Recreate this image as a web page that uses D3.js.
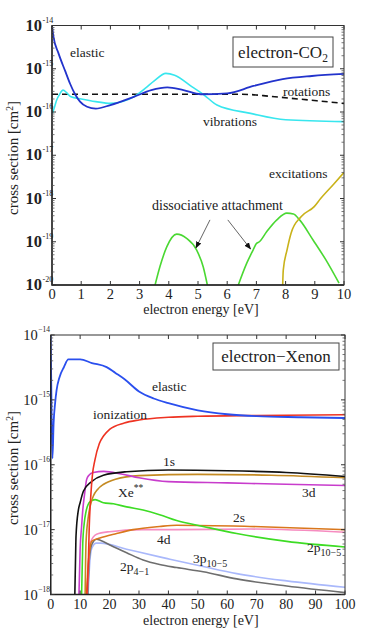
<!DOCTYPE html>
<html>
<head>
<meta charset="utf-8">
<script src="https://cdn.jsdelivr.net/npm/d3@7"></script>
<style>
  body { margin: 0; background: #fff; }
  svg { display: block; }
</style>
</head>
<body>
<svg id="chart" width="382" height="634" font-family="'Liberation Serif', 'DejaVu Serif', serif"></svg>
<script>
// ---- electron-CO2 panel, energy [eV] vs cross section [cm^2]
const co2Elastic = [[0,1e-14],[0.05,5.5e-15],[0.22,2.3e-15],[0.45,8.9e-16],[0.62,4.5e-16],[0.79,2.57e-16],[0.96,1.74e-16],[1.2,1.32e-16],[1.5,1.2e-16],[2.0,1.45e-16],[2.8,2.24e-16],[3.4,3.2e-16],[3.95,3.7e-16],[4.5,3.2e-16],[5.1,2.57e-16],[6.0,2.7e-16],[6.9,4.0e-16],[7.9,5.75e-16],[8.9,6.8e-16],[10,7.6e-16]];
const co2Vibrations = [[0.02,9.5e-17],[0.1,1.4e-16],[0.16,1.9e-16],[0.25,2.5e-16],[0.38,3.2e-16],[0.5,2.8e-16],[0.65,2.24e-16],[1.0,2.0e-16],[1.5,1.74e-16],[2.0,1.58e-16],[2.8,2.24e-16],[3.2,3.55e-16],[3.5,5.25e-16],[3.9,7.8e-16],[4.2,7.1e-16],[4.8,3.8e-16],[5.2,2.5e-16],[5.65,1.45e-16],[6.8,9.3e-17],[8.0,6.6e-17],[10,6.0e-17]];
const co2Rotations = [[0,2.57e-16],[6.5,2.57e-16],[7.5,2.3e-16],[8.5,1.98e-16],[10,1.58e-16]];
const co2Attach1 = [[3.53,1e-20],[3.7,2.7e-20],[3.93,7.6e-20],[4.27,1.5e-19],[4.61,1.2e-19],[4.95,6.5e-20],[5.18,2.6e-20],[5.32,1e-20]];
const co2Attach2 = [[6.38,1e-20],[6.67,3.2e-20],[6.89,6.5e-20],[7.0,9.1e-20],[7.1,1.0e-19],[7.35,1.7e-19],[7.7,3.2e-19],[8.04,4.6e-19],[8.27,4.4e-19],[8.48,3.2e-19],[8.94,1.1e-19],[9.38,3.8e-20],[9.83,1.1e-20]];
const co2Excitations = [[7.9,1e-20],[7.92,2.2e-20],[8.05,6.5e-20],[8.19,1.6e-19],[8.53,3.8e-19],[8.98,6.5e-19],[9.2,1e-18],[9.66,2.2e-18],[10,4e-18]];
const co2XTicks = [0,1,2,3,4,5,6,7,8,9,10];
const co2YTicks = [-14,-15,-16,-17,-18,-19,-20];

// ---- electron-Xenon panel
const xeElastic = [[0,1e-14],[0.3,6.3e-16],[0.6,1.26e-16],[1.0,4.5e-16],[1.5,8.9e-16],[2.0,1.41e-15],[3,2.24e-15],[4.5,3.2e-15],[6,4.2e-15],[10,4.2e-15],[14,3.7e-15],[19,3.2e-15],[22,2.6e-15],[25,2.1e-15],[30,1.35e-15],[35,1.05e-15],[40,8.9e-16],[50,6.9e-16],[60,6.0e-16],[70,5.6e-16],[85,5.4e-16],[100,5.25e-16]];
const xeIonization = [[12.3,1e-18],[12.8,3.2e-18],[13.1,1.12e-17],[13.6,3.2e-17],[14.2,7.1e-17],[15,1.17e-16],[16.5,2.1e-16],[18,2.8e-16],[20,3.5e-16],[25,4.4e-16],[30,4.9e-16],[40,5.4e-16],[50,5.6e-16],[70,5.75e-16],[100,5.9e-16]];
const xe1s = [[8.2,1e-18],[8.5,5e-18],[8.6,7.9e-18],[9.4,2e-17],[10,2.6e-17],[11.1,3.9e-17],[13.9,5.5e-17],[17.9,6.9e-17],[25.8,7.8e-17],[40,8.3e-17],[60,8.1e-17],[80,7.6e-17],[100,6.6e-17]];
const xe3d = [[9.6,1e-18],[10,5e-18],[10.5,1.12e-17],[10.9,2e-17],[11.5,3.5e-17],[12.2,5.9e-17],[13,6.9e-17],[14.5,7.6e-17],[18,7.9e-17],[24,7.2e-17],[30,6.3e-17],[40,5.5e-17],[60,5.25e-17],[80,5e-17],[100,4.8e-17]];
const xeStar = [[11.7,1e-18],[12.0,6.3e-18],[12.8,1.6e-17],[13.5,2.4e-17],[14.5,3.3e-17],[16,4.2e-17],[18,5.0e-17],[22,6.0e-17],[30,6.8e-17],[50,7.1e-17],[75,6.9e-17],[100,6.3e-17]];
const xeGreen = [[10.5,1e-18],[10.9,6.2e-18],[11.4,1.26e-17],[12,1.9e-17],[13.4,2.7e-17],[15.1,2.9e-17],[17.9,2.6e-17],[21.3,2.5e-17],[25.8,2.24e-17],[31.4,2e-17],[37,1.7e-17],[42.8,1.38e-17],[51.8,1.12e-17],[63.2,8.7e-18],[80.2,6.6e-18],[100,5.4e-18]];
const xeOrange = [[12.2,1e-18],[12.8,3.2e-18],[13.3,5e-18],[13.9,6.6e-18],[16.7,7.4e-18],[22.4,8.7e-18],[28,1e-17],[37,1.12e-17],[42.8,1.17e-17],[67.7,1.12e-17],[100,1e-17]];
const xePink = [[12.4,1e-18],[12.9,3.2e-18],[13.4,6.2e-18],[15.6,8.5e-18],[20,9.3e-18],[31,1e-17],[43,1e-17],[68,1.02e-17],[100,9.1e-18]];
const xeGray = [[12.6,1e-18],[13.1,3.4e-18],[13.9,5.8e-18],[15.6,7.1e-18],[17,6.8e-18],[20.1,5.8e-18],[25.8,4.4e-18],[31.4,3.4e-18],[37,2.9e-18],[42.8,2.6e-18],[51.8,2.24e-18],[63.2,1.74e-18],[80.2,1.35e-18],[100,1.07e-18]];
const xeLightBlue = [[12.7,1e-18],[13.3,3.2e-18],[14,5.2e-18],[15.5,6.2e-18],[17,6.2e-18],[25.8,5e-18],[37,3.8e-18],[40.5,3.5e-18],[51.8,2.7e-18],[63.2,2.1e-18],[80.2,1.62e-18],[100,1.29e-18]];
const xeXTicks = [0,10,20,30,40,50,60,70,80,90,100];
const xeYTicks = [-14,-15,-16,-17,-18];

const svg = d3.select("#chart");
svg.append("rect").attr("width", 382).attr("height", 634).attr("fill", "#fff");

// arrow head for the annotations
svg.append("defs").append("marker")
  .attr("id", "head").attr("viewBox", "0 0 10 10").attr("refX", 9).attr("refY", 5)
  .attr("markerWidth", 7).attr("markerHeight", 7).attr("orient", "auto")
  .append("path").attr("d", "M0,1L10,5L0,9z").attr("fill", "#111");

function drawPanel(p) {
  const x = d3.scaleLinear().domain([0, p.xmax]).range([p.left, p.right]);
  const y = d3.scaleLog().domain([p.ymin, p.ymax]).range([p.bottom, p.top]);
  const g = svg.append("g").attr("fill", "#222");

  g.append("clipPath").attr("id", p.id + "clip")
    .append("rect").attr("x", p.left).attr("y", p.top)
    .attr("width", p.right - p.left).attr("height", p.bottom - p.top);

  const line = d3.line()
    .x(d => x(d[0]))
    .y(d => y(d[1]))
    .curve(d3.curveMonotoneX);

  const lines = g.append("g").attr("clip-path", "url(#" + p.id + "clip)");
  for (const s of p.series) {
    lines.append("path")
      .datum(s.data)
      .attr("fill", "none")
      .attr("stroke", s.color)
      .attr("stroke-width", s.width || 1.6)
      .attr("stroke-dasharray", s.dash || null)
      .attr("stroke-linejoin", "round")
      .attr("d", line);
  }

  // frame
  g.append("rect").attr("x", p.left).attr("y", p.top)
    .attr("width", p.right - p.left).attr("height", p.bottom - p.top)
    .attr("fill", "none").attr("stroke", "#333").attr("stroke-width", 1);
  g.append("path")
    .attr("d", `M${p.left},${p.top}V${p.bottom}H${p.right}`)
    .attr("fill", "none").attr("stroke", "#222").attr("stroke-width", 1.4);

  // x ticks (inward, bottom and top)
  for (const t of p.xticks) {
    const px = x(t);
    g.append("line").attr("x1", px).attr("x2", px).attr("y1", p.bottom).attr("y2", p.bottom - 4)
      .attr("stroke", "#333");
    g.append("line").attr("x1", px).attr("x2", px).attr("y1", p.top).attr("y2", p.top + 4)
      .attr("stroke", "#333");
    g.append("text").attr("x", px).attr("y", p.bottom + p.xlabelDy)
      .attr("text-anchor", "middle").attr("font-size", p.tickSize).text(t);
  }

  // y ticks: decades + log minor ticks on both sides
  for (let e = Math.round(Math.log10(p.ymin)); e < Math.round(Math.log10(p.ymax)); e++) {
    for (let m = 2; m <= 9; m++) {
      const py = y(m * Math.pow(10, e));
      g.append("line").attr("x1", p.left).attr("x2", p.left + 2.5).attr("y1", py).attr("y2", py)
        .attr("stroke", "#555").attr("stroke-width", 0.8);
      g.append("line").attr("x1", p.right).attr("x2", p.right - 2.5).attr("y1", py).attr("y2", py)
        .attr("stroke", "#555").attr("stroke-width", 0.8);
    }
  }
  for (const e of p.yticks) {
    const py = y(Math.pow(10, e));
    g.append("line").attr("x1", p.left).attr("x2", p.left + 4).attr("y1", py).attr("y2", py).attr("stroke", "#333");
    g.append("line").attr("x1", p.right).attr("x2", p.right - 4).attr("y1", py).attr("y2", py).attr("stroke", "#333");
    g.append("text").attr("x", p.left - p.tenEnd).attr("y", py + 5)
      .attr("text-anchor", "end").attr("font-size", p.ytickSize)
      .attr("font-weight", p.ytickWeight || "normal").text("10");
    g.append("text").attr("x", p.left - p.supStart).attr("y", py - 3)
      .attr("font-size", p.supSize).text(p.minus + Math.abs(e));
  }

  // axis titles
  g.append("text").attr("x", (p.left + p.right) / 2 + 3).attr("y", p.bottom + p.xtitleDy)
    .attr("text-anchor", "middle").attr("font-size", 14).text("electron energy [eV]");
  const yt = g.append("text")
    .attr("transform", `translate(${18},${p.ytitleY}) rotate(-90)`)
    .attr("text-anchor", "middle").attr("font-size", 15);
  yt.append("tspan").text("cross section [cm");
  yt.append("tspan").attr("dy", -5).attr("font-size", 9.5).text("2");
  yt.append("tspan").attr("dy", 5).text("]");

  // legend box
  g.append("rect").attr("x", p.box[0]).attr("y", p.box[1]).attr("width", p.box[2]).attr("height", p.box[3])
    .attr("fill", "#fff").attr("stroke", "#444").attr("stroke-width", 1);
  const lt = g.append("text").attr("x", p.box[0] + p.box[2] / 2).attr("y", p.box[1] + p.box[3] / 2 + 5.5)
    .attr("text-anchor", "middle").attr("font-size", 17);
  for (const part of p.boxText) {
    const ts = lt.append("tspan").text(part.t);
    if (part.sub) ts.attr("dy", 4).attr("font-size", 11.5);
  }

  // series labels
  for (const l of p.labels) {
    const t = g.append("text").attr("x", l.x).attr("y", l.y).attr("font-size", l.size || 13.5);
    t.append("tspan").text(l.t);
    if (l.sub) t.append("tspan").attr("dy", 4).attr("font-size", 10).text(l.sub);
    if (l.sup) t.append("tspan").attr("dy", -6).attr("font-size", 9.5).text(l.sup);
  }

  // arrows (in data units)
  for (const a of p.arrows || []) {
    g.append("line")
      .attr("x1", x(a[0])).attr("y1", y(a[1])).attr("x2", x(a[2])).attr("y2", y(a[3]))
      .attr("stroke", "#666").attr("stroke-width", 1).attr("marker-end", "url(#head)");
  }
}

drawPanel({
  id: "co2", left: 52, right: 344, top: 25.5, bottom: 285,
  xmax: 10, ymin: 1e-20, ymax: 1e-14,
  xticks: co2XTicks, yticks: co2YTicks,
  tickSize: 14.5, ytickSize: 16.5, ytickWeight: "bold", tenEnd: 10, supStart: 9.5, supSize: 8,
  minus: "-", xlabelDy: 14, xtitleDy: 29, ytitleY: 158,
  box: [233, 37, 100, 30],
  boxText: [{ t: "electron-CO" }, { t: "2", sub: true }],
  series: [
    { data: co2Rotations, color: "#111", dash: "6,4", width: 1.6 },
    { data: co2Vibrations, color: "#38e6ee" },
    { data: co2Elastic, color: "#2233cc", width: 1.8 },
    { data: co2Attach1, color: "#4ad832" },
    { data: co2Attach2, color: "#4ad832" },
    { data: co2Excitations, color: "#c9b21a" }
  ],
  labels: [
    { t: "elastic", x: 70, y: 57 },
    { t: "rotations", x: 283, y: 96 },
    { t: "vibrations", x: 203, y: 126 },
    { t: "excitations", x: 269, y: 178 },
    { t: "dissociative attachment", x: 152, y: 210, size: 14 }
  ],
  arrows: [[5.41, 3.2e-19, 4.93, 7.2e-20], [6.02, 3.2e-19, 6.80, 6.8e-20]]
});

drawPanel({
  id: "xe", left: 50.7, right: 345, top: 335, bottom: 594.5,
  xmax: 100, ymin: 1e-18, ymax: 1e-14,
  xticks: xeXTicks, yticks: xeYTicks,
  tickSize: 14, ytickSize: 14.5, tenEnd: 13, supStart: 12.5, supSize: 7.5,
  minus: "\u2212", xlabelDy: 14, xtitleDy: 30, ytitleY: 468,
  box: [213, 343, 126, 27],
  boxText: [{ t: "electron\u2212Xenon" }],
  series: [
    { data: xeLightBlue, color: "#a9b8fb" },
    { data: xeGray, color: "#6e6e6e" },
    { data: xePink, color: "#f68cc0" },
    { data: xeOrange, color: "#d9771c" },
    { data: xeGreen, color: "#3ddc24" },
    { data: xeStar, color: "#c48a22" },
    { data: xe3d, color: "#c83ccc" },
    { data: xe1s, color: "#111" },
    { data: xeIonization, color: "#ee3322" },
    { data: xeElastic, color: "#2a4fee", width: 1.8 }
  ],
  labels: [
    { t: "elastic", x: 152, y: 391 },
    { t: "ionization", x: 93, y: 419 },
    { t: "1s", x: 163, y: 466 },
    { t: "Xe", x: 118, y: 497, sup: "**" },
    { t: "3d", x: 302, y: 497 },
    { t: "2s", x: 233, y: 522 },
    { t: "4d", x: 157, y: 544 },
    { t: "2p", x: 307, y: 552, sub: "10\u22125" },
    { t: "3p", x: 193, y: 563, sub: "10\u22125" },
    { t: "2p", x: 120, y: 571, sub: "4\u22121" }
  ]
});
</script>
</body>
</html>
